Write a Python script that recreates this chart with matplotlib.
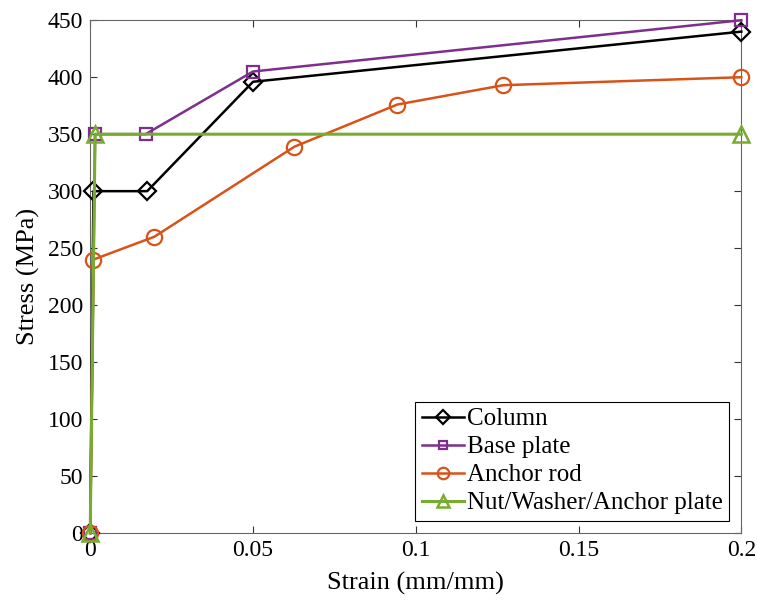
import matplotlib.pyplot as plt
import numpy as np

plt.rcParams['font.family'] = ['Liberation Serif', 'DejaVu Serif']

column_x = [0, 0.001, 0.0175, 0.05, 0.2]
column_y = [0, 300, 300, 396, 440]

base_x = [0, 0.0015, 0.017, 0.05, 0.2]
base_y = [0, 350, 350, 405, 450]

rod_x = [0, 0.001, 0.0197, 0.0627, 0.0943, 0.1269, 0.2]
rod_y = [0, 240, 260, 339, 376, 393, 400]

nut_x = [0, 0.0015, 0.2]
nut_y = [0, 350, 350]

fig = plt.figure(figsize=(7.58, 6.04), dpi=100)
ax = fig.add_axes([0.119, 0.1175, 0.859, 0.849])

ax.plot(column_x, column_y, '-', color='black', marker='D', markersize=9,
        markerfacecolor='none', markeredgewidth=1.6, lw=1.8, label='Column',
        clip_on=False, zorder=3)
ax.plot(base_x, base_y, '-', color='#7E2F8E', marker='s', markersize=8,
        markerfacecolor='none', markeredgewidth=1.6, lw=1.8, label='Base plate',
        clip_on=False, zorder=3)
ax.plot(rod_x, rod_y, '-', color='#D95319', marker='o', markersize=11,
        markerfacecolor='none', markeredgewidth=1.6, lw=1.8, label='Anchor rod',
        clip_on=False, zorder=3)
ax.plot(nut_x, nut_y, '-', color='#77AC30', marker='^', markersize=12,
        markerfacecolor='none', markeredgewidth=1.8, lw=2.2,
        label='Nut/Washer/Anchor plate', clip_on=False, zorder=3)

ax.set_xlim(0, 0.2)
ax.set_ylim(0, 450)
ax.set_xticks([0, 0.05, 0.1, 0.15, 0.2])
ax.set_xticklabels(['0', '0.05', '0.1', '0.15', '0.2'])
ax.set_yticks(np.arange(0, 451, 50))
ax.tick_params(direction='in', labelsize=17, top=True, right=True,
               length=5, color='#333333', pad=5)
for s in ax.spines.values():
    s.set_color('#666666')

ax.set_xlabel('Strain (mm/mm)', fontsize=19, labelpad=8)
ax.set_ylabel('Stress (MPa)', fontsize=19, labelpad=6)

leg = ax.legend(loc='lower right', fontsize=18, fancybox=False, framealpha=1,
                edgecolor='black', handlelength=1.7, handletextpad=0.1,
                borderpad=0.25, labelspacing=0.22, borderaxespad=0.5,
                markerscale=0.75)
leg.get_frame().set_linewidth(0.8)
leg.set_zorder(5)

plt.savefig('out.png', dpi=100)
